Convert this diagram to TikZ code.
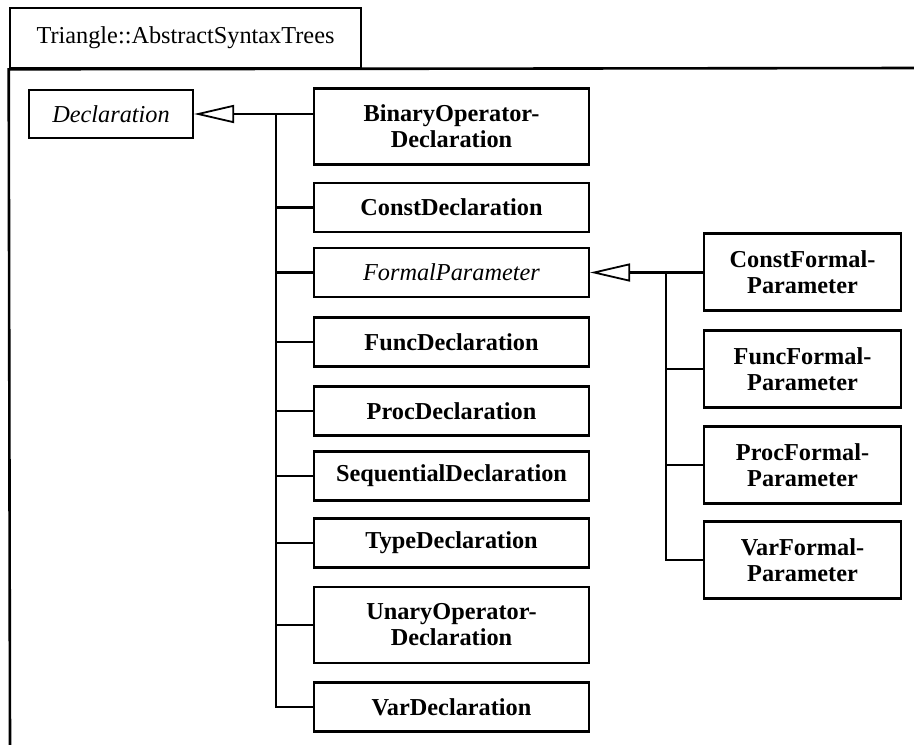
\documentclass[tikz,border=0pt]{standalone}
\usepackage{fontspec}
\setmainfont{Liberation Serif}
\usetikzlibrary{arrows.meta}
\begin{document}
\begin{tikzpicture}[x=1pt,y=-1pt,
  every node/.style={font=\fontsize{24.3}{26}\selectfont, inner sep=0pt},
  cls/.style={draw, line width=2.2pt, align=center},
  lbox/.style={cls, minimum width=275pt},
  rbox/.style={cls, minimum width=197pt, minimum height=77pt},
  one/.style={minimum height=49pt},
  two/.style={minimum height=76pt},
  conn/.style={line width=2.1pt},
  gen/.style={line width=2.1pt, -{Triangle[open, length=40pt, width=18pt, line width=1.8pt]}},
  frame/.style={line width=2.6pt}
]
\useasboundingbox (0,0) rectangle (914,745);
% package frame
\node[frame, draw, minimum width=351pt, minimum height=60pt] (tab) at (185.5,38) {Triangle::AbstractSyntaxTrees};
\coordinate (bodyR) at (914,68);
\coordinate (bodyB) at (10,745);
\draw[frame] (bodyR) -- (tab.south west) -- (bodyB);

% classes
\node[cls, minimum width=164pt, minimum height=48pt] (decl) at (111,114) {\itshape Declaration};
\node[lbox, two] (binop) at (451.5,126.5) {\bfseries BinaryOperator-\\\bfseries Declaration};
\node[lbox, one] (const) at (451.5,207.5) {\bfseries ConstDeclaration};
\node[lbox, one] (formal) at (451.5,272.5) {\itshape FormalParameter};
\node[lbox, one] (func) at (451.5,342) {\bfseries FuncDeclaration};
\node[lbox, one] (proc) at (451.5,411) {\bfseries ProcDeclaration};
\node[lbox, one] (seq) at (451.5,476) {\bfseries SequentialDeclaration};
\node[lbox, one] (type) at (451.5,543) {\bfseries TypeDeclaration};
\node[lbox, two] (unary) at (451.5,625) {\bfseries UnaryOperator-\\\bfseries Declaration};
\node[lbox, one] (var) at (451.5,707) {\bfseries VarDeclaration};

\node[rbox] (cfp) at (802.5,272) {\bfseries ConstFormal-\\\bfseries Parameter};
\node[rbox] (ffp) at (802.5,369) {\bfseries FuncFormal-\\\bfseries Parameter};
\node[rbox] (pfp) at (802.5,465) {\bfseries ProcFormal-\\\bfseries Parameter};
\node[rbox] (vfp) at (802.5,560) {\bfseries VarFormal-\\\bfseries Parameter};

% generalisation to Declaration
\draw[gen] (binop.west |- decl.east) -- (decl.east);
\coordinate (t1) at (276,114);
\draw[conn] (t1) |- (var.west);
\foreach \n in {const,formal,func,proc,seq,type,unary}
  \draw[conn] (t1 |- \n.west) -- (\n.west);

% generalisation to FormalParameter
\draw[gen] (cfp.west |- formal.east) -- (formal.east);
\coordinate (t2) at (666,272.5);
\draw[conn] (t2) |- (vfp.west);
\foreach \n in {ffp,pfp}
  \draw[conn] (t2 |- \n.west) -- (\n.west);
\end{tikzpicture}
\end{document}
